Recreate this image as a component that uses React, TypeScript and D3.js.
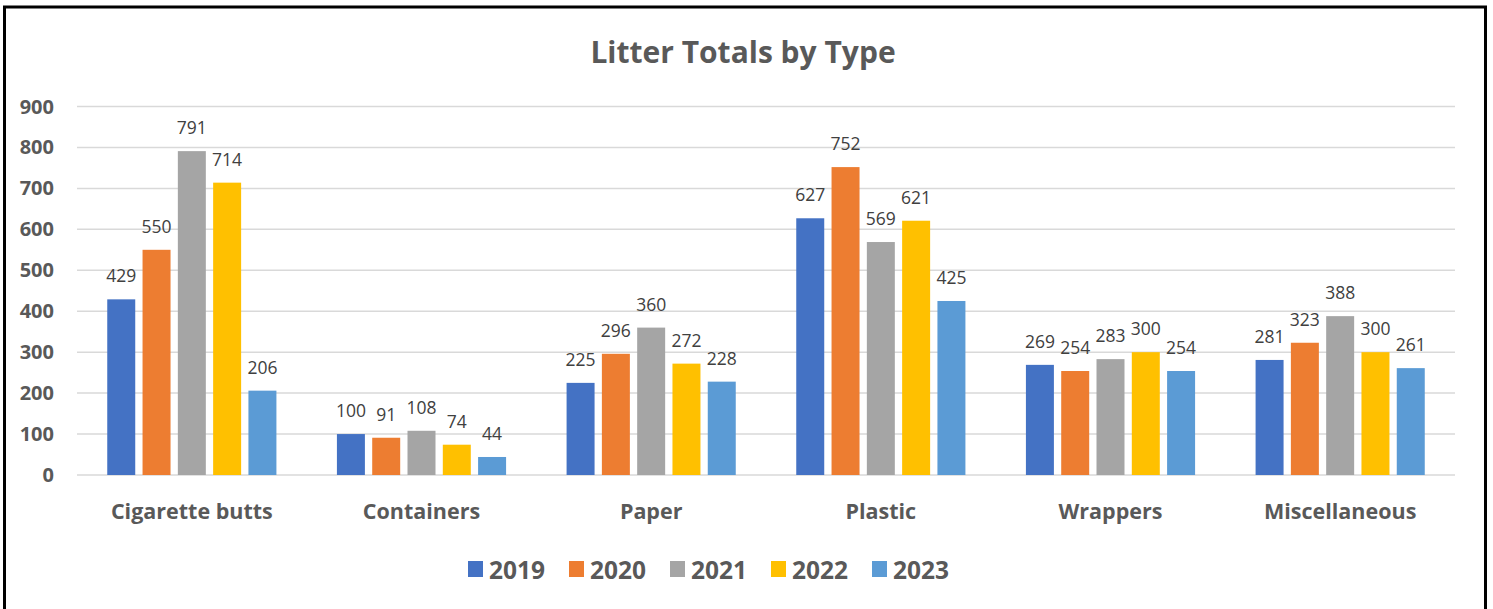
import React from "react";
import * as d3 from "d3";

const categories = ["Cigarette butts", "Containers", "Paper", "Plastic", "Wrappers", "Miscellaneous"];
const years = ["2019", "2020", "2021", "2022", "2023"];
const values2019 = [429, 100, 225, 627, 269, 281];
const values2020 = [550, 91, 296, 752, 254, 323];
const values2021 = [791, 108, 360, 569, 283, 388];
const values2022 = [714, 74, 272, 621, 300, 300];
const values2023 = [206, 44, 228, 425, 254, 261];
const seriesValues = [values2019, values2020, values2021, values2022, values2023];
const colors = ["#4472C4", "#ED7D31", "#A5A5A5", "#FFC000", "#5B9BD5"];
const yTicks = [0, 100, 200, 300, 400, 500, 600, 700, 800, 900];

const W = 1493;
const H = 609;
const FONT = "'Open Sans', Lato, sans-serif";
const TEXT = "#595959";

export default function App() {
  const x0 = d3.scaleBand<string>().domain(categories).range([77, 1455]).padding(0);
  const x1 = d3
    .scaleBand<string>()
    .domain(years)
    .range([0, x0.bandwidth()])
    .paddingInner(0.207)
    .paddingOuter(0.857);
  const y = d3.scaleLinear().domain([0, 900]).range([475, 106.5]);

  const legendStart = 468;
  const legendStep = 101;

  return (
    <svg
      width={W}
      height={H}
      style={{ position: "absolute", left: 0, top: 0, background: "#fff" }}
      fontFamily={FONT}
    >
      <rect x={0} y={0} width={W} height={H} fill="#fff" />
      <rect x={4.5} y={7} width={1481} height={640} fill="none" stroke="#000" strokeWidth={3} />

      <text x={743} y={63} textAnchor="middle" fontSize={30} fontWeight={700} fill={TEXT}>
        Litter Totals by Type
      </text>

      {yTicks.map((t) => (
        <g key={t}>
          <line x1={77} x2={1455} y1={y(t)} y2={y(t)} stroke="#D9D9D9" strokeWidth={1.5} />
          <text x={54} y={y(t) + 7} textAnchor="end" fontSize={20} fontWeight={700} fill={TEXT}>
            {t}
          </text>
        </g>
      ))}

      {categories.map((c, ci) => (
        <g key={c} transform={`translate(${x0(c)},0)`}>
          {years.map((yr, si) => {
            const v = seriesValues[si][ci];
            const bx = x1(yr)!;
            return (
              <g key={yr}>
                <rect x={bx} y={y(v)} width={x1.bandwidth()} height={y(0) - y(v)} fill={colors[si]} />
                <text
                  x={bx + x1.bandwidth() / 2}
                  y={y(v) - 17}
                  textAnchor="middle"
                  fontSize={17.5}
                  fill="#404040"
                >
                  {v}
                </text>
              </g>
            );
          })}
          <text
            x={x0.bandwidth() / 2}
            y={519}
            textAnchor="middle"
            fontSize={21.5}
            fontWeight={700}
            fill={TEXT}
          >
            {c}
          </text>
        </g>
      ))}

      {years.map((yr, i) => (
        <g key={yr} transform={`translate(${legendStart + i * legendStep},0)`}>
          <rect x={0} y={561} width={15} height={16} fill={colors[i]} />
          <text x={21} y={578.5} fontSize={24.5} fontWeight={700} fill={TEXT}>
            {yr}
          </text>
        </g>
      ))}
    </svg>
  );
}
